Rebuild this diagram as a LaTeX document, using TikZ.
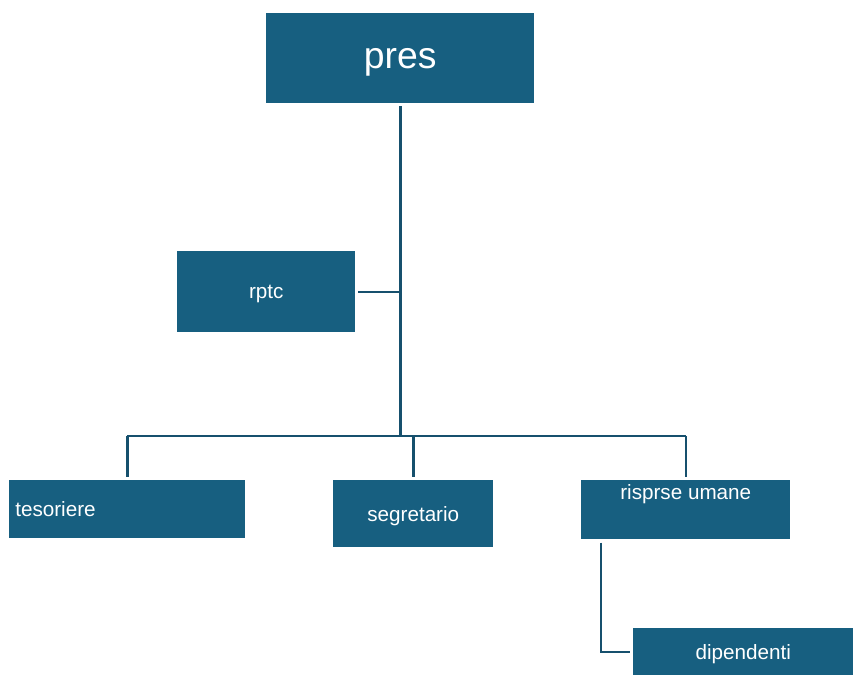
\documentclass[tikz,border=0pt]{standalone}
\usepackage{fontspec}
\setmainfont{Liberation Sans}
\usepackage{tikz}
\usetikzlibrary{positioning}
\definecolor{cbox}{HTML}{175F80}
\definecolor{cline}{HTML}{16506D}

\begin{document}
\begin{tikzpicture}[
    x=0.75pt, y=-0.75pt,
    box/.style={fill=cbox, draw=none, inner sep=0pt, anchor=north west, text depth=0pt,
                text=white, font=\fontsize{15.5}{18}\selectfont},
    link/.style={draw=cline, line width=1.9pt},
]
\useasboundingbox (0,0) rectangle (853,675);

% Top
\node[box, minimum width=201pt, minimum height=67.5pt,
      font=\fontsize{28}{32}\selectfont] (pres) at (266,13) {pres};

% Staff
\node[box, minimum width=133.5pt, minimum height=60.75pt] (rptc) at (177,251) {rptc};

% === Second level ===
\node[box, minimum width=177pt, minimum height=43.5pt, text width=168pt, align=left]
    (tes) at (9,480) {tesoriere};
\node[box, minimum width=120pt, minimum height=50.25pt] (seg) at (333,480) {segretario};
\node[box, minimum width=156.75pt, minimum height=44.25pt,
      label={[box, anchor=north, inner sep=0pt, yshift=-3.5pt]north:risprse umane}]
    (ris) at (581,480) {};

% Third level
\node[box, minimum width=165pt, minimum height=35.25pt] (dip) at (633,628) {dipendenti};

% === Connectors ===
\coordinate (bus) at (400,436);
\draw[link, shorten <=2pt] (pres.south) -- (pres.south |- bus);
\draw[link, shorten <=2pt] (rptc.east) -- (rptc.east -| pres.south);
\draw[link] (tes.north |- bus) -- (ris.north |- bus);
\draw[link, shorten >=2pt] (tes.north |- bus) -- (tes.north);
\draw[link, shorten >=2pt] (seg.north |- bus) -- (seg.north);
\draw[link, shorten >=2pt] (ris.north |- bus) -- (ris.north);
\draw[link, shorten >=2pt] (ris.south west) ++(20,3) |- (dip.west);

\end{tikzpicture}
\end{document}
